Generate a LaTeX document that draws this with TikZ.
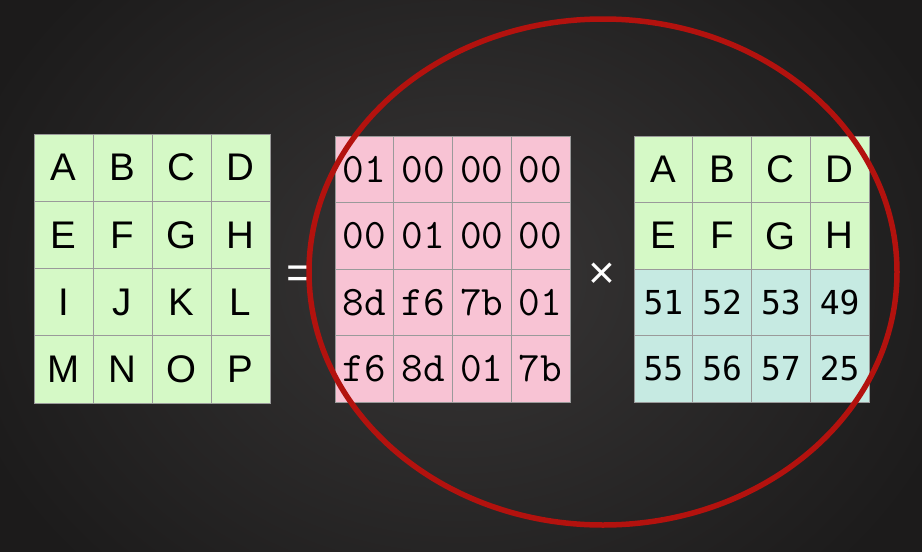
\documentclass[tikz,border=0pt]{standalone}
\usepackage{fontspec}
\setmainfont{Liberation Sans}
\newfontfamily\numfont{DejaVu Sans Mono}
\definecolor{bgin}{HTML}{383636}
\definecolor{bgout}{HTML}{1C1B1B}
\definecolor{cgreen}{HTML}{D5F9C6}
\definecolor{cpink}{HTML}{F8C3D4}
\definecolor{cteal}{HTML}{C6EAE2}
\definecolor{gridgray}{HTML}{9A9A9A}
\definecolor{ringred}{HTML}{B3120E}
\begin{document}
\begin{tikzpicture}[x=1pt,y=-1pt,
  cellbase/.style={draw=gridgray, line width=0.9pt, inner sep=0pt, outer sep=0pt,
    anchor=north west, text=black, minimum height=66.5pt, minimum width=58.75pt},
  lcell/.style={cellbase, fill=cgreen, minimum height=67.25pt, minimum width=59pt,
    font=\fontsize{38.5}{38.5}\selectfont},
  hcell/.style={cellbase, fill=cpink,
    font=\ttfamily\fontsize{42}{42}\selectfont\addfontfeatures{FakeBold=3}},
  rcell/.style={cellbase, fill=cgreen, font=\fontsize{38.5}{38.5}\selectfont},
  ncell/.style={cellbase, fill=cteal, font=\numfont\fontsize{33}{33}\selectfont},
  sign/.style={text=white, inner sep=0pt, font=\fontsize{46}{46}\selectfont},
  ring/.style={draw=ringred, line width=5.5pt}]
\useasboundingbox (0,0) rectangle (922,552);
\shade[inner color=bgin, outer color=bgout] (-60,-150) rectangle (982,702);
% left matrix
\foreach \t [count=\i from 0] in {A,B,C,D,E,F,G,H,I,J,K,L,M,N,O,P} {
  \pgfmathtruncatemacro\r{div(\i,4)}
  \pgfmathtruncatemacro\c{mod(\i,4)}
  \node[lcell] (L\i) at ({34+59*\c},{134+67.25*\r}) {\t};
}
% middle matrix
\foreach \t [count=\i from 0] in {01,00,00,00,00,01,00,00,8d,f6,7b,01,f6,8d,01,7b} {
  \pgfmathtruncatemacro\r{div(\i,4)}
  \pgfmathtruncatemacro\c{mod(\i,4)}
  \node[hcell] (M\i) at ({335+58.75*\c},{136+66.5*\r}) {\t};
}
% right matrix
\foreach \t [count=\i from 0] in {A,B,C,D,E,F,G,H} {
  \pgfmathtruncatemacro\r{div(\i,4)}
  \pgfmathtruncatemacro\c{mod(\i,4)}
  \node[rcell] (R\i) at ({634+58.75*\c},{136+66.5*\r}) {\t};
}
\foreach \t [count=\i from 8] in {51,52,53,49,55,56,57,25} {
  \pgfmathtruncatemacro\r{div(\i,4)}
  \pgfmathtruncatemacro\c{mod(\i,4)}
  \node[ncell] (R\i) at ({634+58.75*\c},{136+66.5*\r}) {\t};
}
\node[sign] (eq) at (300,277) {=};
\node[sign] (times) at (602,276) {×};
\draw[ring] (603,272) ellipse [x radius=294, y radius=253];
\end{tikzpicture}
\end{document}
